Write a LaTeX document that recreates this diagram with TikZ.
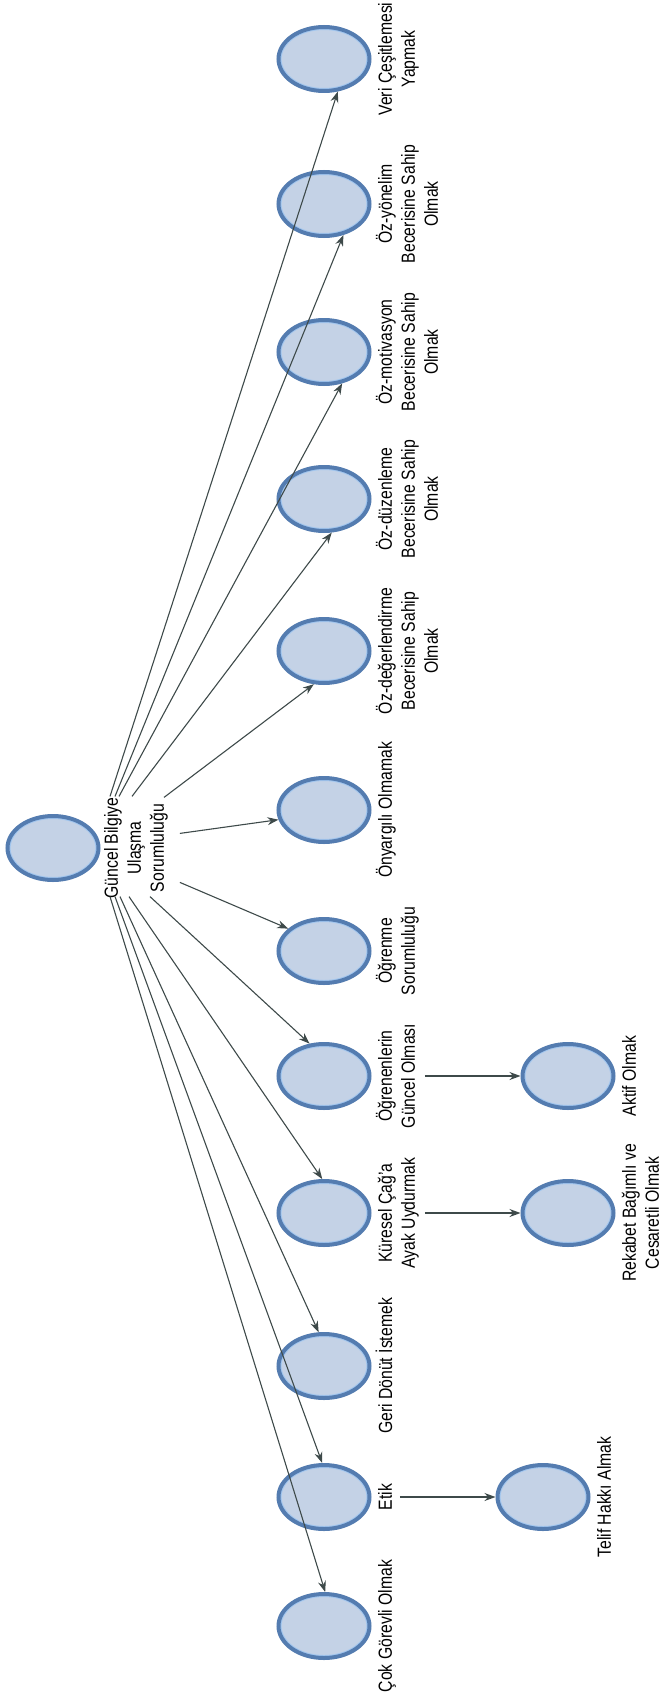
\documentclass[tikz,border=0pt]{standalone}
\usepackage{graphicx}
\usepackage{fontspec}
\setmainfont{Liberation Sans}[FakeStretch=0.83]
\usetikzlibrary{arrows.meta,calc,shapes.geometric}
\definecolor{ringdark}{RGB}{84,124,176}
\definecolor{ringlight}{RGB}{162,198,238}
\definecolor{ellfill}{RGB}{196,210,230}
\definecolor{arrowcol}{RGB}{62,74,74}
\newcommand{\rlab}[1]{\rotatebox{90}{\begin{tabular}{@{}c@{}}#1\end{tabular}}}
\tikzset{
  bubble/.style={ellipse, draw=ringdark, line width=4pt, fill=ellfill,
    minimum width=91pt, minimum height=64pt, inner sep=0pt,
    path picture={\draw[ringlight, line width=1.6pt] (path picture bounding box.center) ellipse [x radius=43.2pt, y radius=29.8pt];}},
  lbl/.style={anchor=west, inner sep=0pt, font=\fontsize{19}{23}\selectfont},
  conn/.style={draw=arrowcol, line width=1.1pt, -{Stealth[length=11pt,width=8pt]}}
}
\begin{document}
\begin{tikzpicture}[x=1pt,y=-1pt]
\useasboundingbox (0,0) rectangle (665,1699);
% root
\node[bubble] (root) at (53,848) {};
\node[lbl] (rl) at ([xshift=1pt]root.east) {\rlab{Güncel Bilgiye\\Ulaşma\\Sorumluluğu}};
% children column
\node[bubble] (veri) at (324,59) {};
\node[bubble] (ozyon) at (324,204) {};
\node[bubble] (ozmot) at (324,352) {};
\node[bubble] (ozduz) at (324,499) {};
\node[bubble] (ozdeg) at (324,651) {};
\node[bubble] (onyar) at (324,810) {};
\node[bubble] (ogrsor) at (324,951) {};
\node[bubble] (ogrgun) at (324,1076) {};
\node[bubble] (kures) at (324,1213) {};
\node[bubble] (geri) at (324,1366) {};
\node[bubble] (etik) at (324,1497) {};
\node[bubble] (cok) at (324,1626) {};
\node[bubble] (aktif) at (568,1076) {};
\node[bubble] (rekab) at (568,1213) {};
\node[bubble] (telif) at (543,1497) {};
% labels
\node[lbl] (veriL) at ([xshift=4pt]veri.east) {\rlab{Veri Çeşitlemesi\\Yapmak}};
\node[lbl] (ozyonL) at ([xshift=4pt]ozyon.east) {\rlab{Öz-yönelim\\Becerisine Sahip\\Olmak}};
\node[lbl] (ozmotL) at ([xshift=4pt]ozmot.east) {\rlab{Öz-motivasyon\\Becerisine Sahip\\Olmak}};
\node[lbl] (ozduzL) at ([xshift=4pt]ozduz.east) {\rlab{Öz-düzenleme\\Becerisine Sahip\\Olmak}};
\node[lbl] (ozdegL) at ([xshift=4pt]ozdeg.east) {\rlab{Öz-değerlendirme\\Becerisine Sahip\\Olmak}};
\node[lbl] (onyarL) at ([xshift=4pt]onyar.east) {\rlab{Önyargılı Olmamak}};
\node[lbl] (ogrsorL) at ([xshift=4pt]ogrsor.east) {\rlab{Öğrenme\\Sorumluluğu}};
\node[lbl] (ogrgunL) at ([xshift=4pt]ogrgun.east) {\rlab{Öğrenenlerin\\Güncel Olması}};
\node[lbl] (kuresL) at ([xshift=4pt]kures.east) {\rlab{Küresel Çağ'a\\Ayak Uydurmak}};
\node[lbl] (geriL) at ([xshift=4pt]geri.east) {\rlab{Geri Dönüt İstemek}};
\node[lbl] (etikL) at ([xshift=4pt]etik.east) {\rlab{Etik}};
\node[lbl] (cokL) at ([xshift=4pt]cok.east) {\rlab{Çok Görevli Olmak}};
\node[lbl] (aktifL) at ([xshift=4pt]aktif.east) {\rlab{Aktif Olmak}};
\node[lbl] (rekabL) at ([xshift=4pt]rekab.east) {\rlab{Rekabet Bağımlı ve\\Cesaretli Olmak}};
\node[lbl] (telifL) at ([xshift=4pt]telif.east) {\rlab{Telif Hakkı Almak}};
% fan connectors
\draw[conn] ($(rl.north west)+(8.5,-1)$) -- (veri.-67);
\draw[conn] ($(rl.north west)+(13.5,-1)$) -- (ozyon.-58);
\draw[conn] ($(rl.north west)+(17.5,-1)$) -- (ozmot.-60);
\draw[conn] ($(rl.north west)+(30.5,-1)$) -- (ozduz.-77);
\draw[conn] ($(rl.north west)+(62.5,0)$) -- (ozdeg.-107);
\draw[conn] ($(rl.north east)+(9,36)$) -- (onyar.192);
\draw[conn] ($(rl.north east)+(9,85)$) -- (ogrsor.148);
\draw[conn] ($(rl.south west)+(48.5,-2)$) -- (ogrgun.114);
\draw[conn] ($(rl.south west)+(27.5,-2)$) -- (kures.93);
\draw[conn] ($(rl.south west)+(18.5,-2)$) -- (geri.99);
\draw[conn] ($(rl.south west)+(13.5,-2)$) -- (etik.93);
\draw[conn] ($(rl.south west)+(8.5,-2)$) -- (cok.88);
% horizontal connectors
\draw[conn, shorten <=3pt] (ogrgunL) -- (aktif.west);
\draw[conn, shorten <=3pt] (kuresL) -- (rekab.west);
\draw[conn, shorten <=1pt] (etikL) -- (telif.west);
\end{tikzpicture}
\end{document}
